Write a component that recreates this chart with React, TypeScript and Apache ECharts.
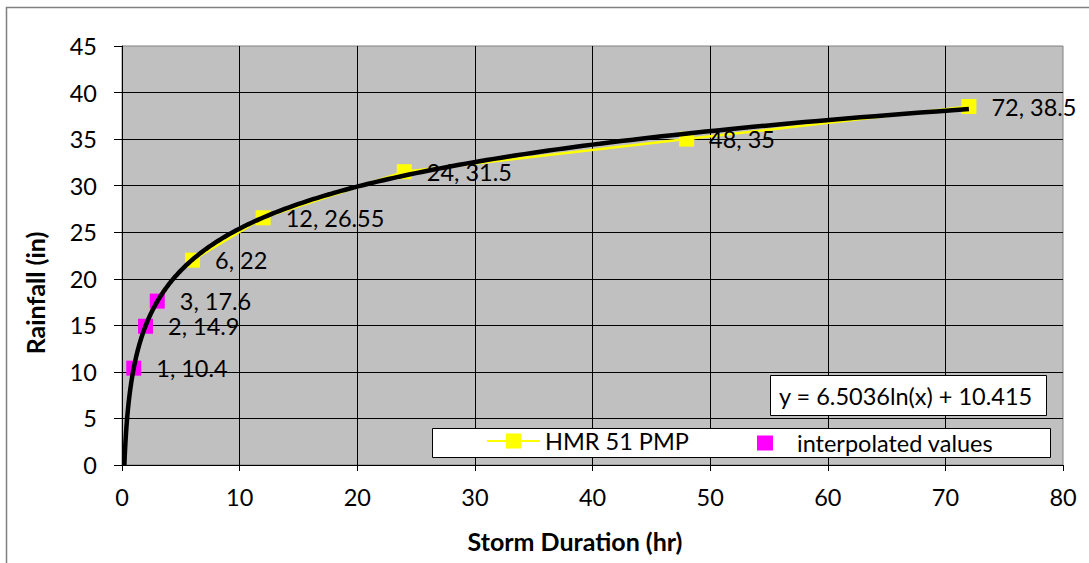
import React, { useEffect, useRef } from "react";
import * as echarts from "echarts";

const hmrX = [6, 12, 24, 48, 72];
const hmrY = [22, 26.55, 31.5, 35, 38.5];
const interpX = [1, 2, 3];
const interpY = [10.4, 14.9, 17.6];
const xTicks = { min: 0, max: 80, interval: 10 };
const yTicks = { min: 0, max: 45, interval: 5 };
const equationText = "y = 6.5036ln(x) + 10.415";
const seriesNames = ["HMR 51 PMP", "interpolated values"];
const xTitle = "Storm Duration (hr)";
const yTitle = "Rainfall (in)";

// logarithmic least-squares fit of the HMR 51 data (Excel trendline)
function logFit(xs: number[], ys: number[]) {
  const lx = xs.map((v) => Math.log(v));
  const n = xs.length;
  const mx = lx.reduce((a, b) => a + b, 0) / n;
  const my = ys.reduce((a, b) => a + b, 0) / n;
  let sxy = 0;
  let sxx = 0;
  for (let i = 0; i < n; i++) {
    sxy += (lx[i] - mx) * (ys[i] - my);
    sxx += (lx[i] - mx) * (lx[i] - mx);
  }
  const a = sxy / sxx;
  return { a, b: my - a * mx };
}

const FONT = "Lato";
const FS = 23.5;

export default function App() {
  const ref = useRef<HTMLDivElement>(null);
  useEffect(() => {
    if (!ref.current) return;
    const chart = echarts.init(ref.current, undefined, { renderer: "svg" });
    const { a, b } = logFit(hmrX, hmrY);
    const xStart = Math.exp(-b / a);
    const xEnd = hmrX[hmrX.length - 1];
    const trend: number[][] = [];
    const N = 300;
    for (let i = 0; i <= N; i++) {
      const x = xStart * Math.pow(xEnd / xStart, i / N);
      trend.push([x, a * Math.log(x) + b]);
    }
    const hmrData = hmrX.map((x, i) => [x, hmrY[i]]);
    const interpData = interpX.map((x, i) => [x, interpY[i]]);
    const labelCfg = {
      show: true,
      position: "right",
      distance: 15,
      color: "#000",
      fontFamily: FONT,
      fontSize: FS,
      formatter: (p: any) => `${p.value[0]}, ${p.value[1]}`,
    };
    chart.setOption({
      animation: false,
      backgroundColor: "#fff",
      grid: {
        left: 122,
        top: 46,
        right: 26,
        bottom: 98,
        show: true,
        backgroundColor: "#C0C0C0",
        borderColor: "#808080",
        borderWidth: 1,
      },
      xAxis: {
        type: "value",
        min: xTicks.min,
        max: xTicks.max,
        interval: xTicks.interval,
        axisLine: { show: true, onZero: false, lineStyle: { color: "#000", width: 1 } },
        axisTick: { show: true, length: 6, lineStyle: { color: "#000" } },
        axisLabel: { color: "#000", fontFamily: FONT, fontSize: FS, margin: 20 },
        splitLine: { show: true, showMaxLine: false, lineStyle: { color: "#000", width: 1 } },
      },
      yAxis: {
        type: "value",
        min: yTicks.min,
        max: yTicks.max,
        interval: yTicks.interval,
        axisLine: { show: true, onZero: false, lineStyle: { color: "#000", width: 1 } },
        axisTick: { show: true, length: 8, lineStyle: { color: "#000" } },
        axisLabel: { color: "#000", fontFamily: FONT, fontSize: FS, margin: 25 },
        splitLine: { show: true, showMaxLine: false, lineStyle: { color: "#000", width: 1 } },
      },
      legend: [
        {
          data: [
            {
              name: seriesNames[0],
              itemStyle: { color: "#FFFF00" },
            },
          ],
          left: 486,
          top: 429,
          padding: 0,
          itemWidth: 53,
          itemHeight: 19,
          textStyle: { color: "#000", fontFamily: FONT, fontSize: FS },
          selectedMode: false,
          z: 6,
        },
        {
          data: [{ name: seriesNames[1], icon: "rect" }],
          left: 757,
          top: 431,
          padding: 0,
          itemWidth: 16,
          itemHeight: 15,
          textStyle: { color: "#000", fontFamily: FONT, fontSize: FS, padding: [0, 0, 0, 19] },
          selectedMode: false,
          z: 6,
        },
      ],
      graphic: [
        {
          type: "rect",
          shape: { x: 6.5, y: 7.5, width: 1100, height: 600 },
          style: { fill: "none", stroke: "#808080", lineWidth: 1.5 },
          silent: true,
          z: 10,
        },
        {
          type: "rect",
          shape: { x: 432.5, y: 428.5, width: 618, height: 29 },
          style: { fill: "#fff", stroke: "#000", lineWidth: 1 },
          z: 5,
        },
        {
          type: "rect",
          shape: { x: 770.5, y: 375.5, width: 276, height: 40 },
          style: { fill: "#fff", stroke: "#000", lineWidth: 1 },
          z: 5,
        },
        {
          type: "text",
          x: 779,
          y: 396,
          style: {
            text: equationText,
            fill: "#000",
            font: `${FS}px ${FONT}`,
            textAlign: "left",
            textVerticalAlign: "middle",
          },
          z: 6,
        },
        {
          type: "text",
          x: 575,
          y: 541,
          style: {
            text: xTitle,
            fill: "#000",
            font: `bold 25px ${FONT}`,
            textAlign: "center",
            textVerticalAlign: "middle",
          },
          z: 6,
        },
        {
          type: "text",
          x: 35,
          y: 293,
          rotation: Math.PI / 2,
          style: {
            text: yTitle,
            fill: "#000",
            font: `bold 25px ${FONT}`,
            textAlign: "center",
            textVerticalAlign: "middle",
          },
          z: 6,
        },
      ],
      series: [
        {
          name: seriesNames[0],
          type: "line",
          data: hmrData,
          symbol: "rect",
          symbolSize: 15,
          showAllSymbol: true,
          lineStyle: { color: "#FFFF00", width: 2.5 },
          itemStyle: { color: "#FFFF00", opacity: 1 },
          label: labelCfg,
          z: 2,
        },
        {
          name: seriesNames[1],
          type: "scatter",
          data: interpData,
          symbol: "rect",
          symbolSize: 15,
          itemStyle: { color: "#FF00FF", opacity: 1 },
          label: labelCfg,
          z: 2,
        },
        {
          name: "trend",
          type: "line",
          data: trend,
          symbol: "none",
          lineStyle: { color: "#000", width: 4.5 },
          silent: true,
          z: 3,
        },
      ],
    });
    return () => chart.dispose();
  }, []);
  return (
    <div
      ref={ref}
      style={{ position: "absolute", left: 0, top: 0, width: 1089, height: 563 }}
    />
  );
}
